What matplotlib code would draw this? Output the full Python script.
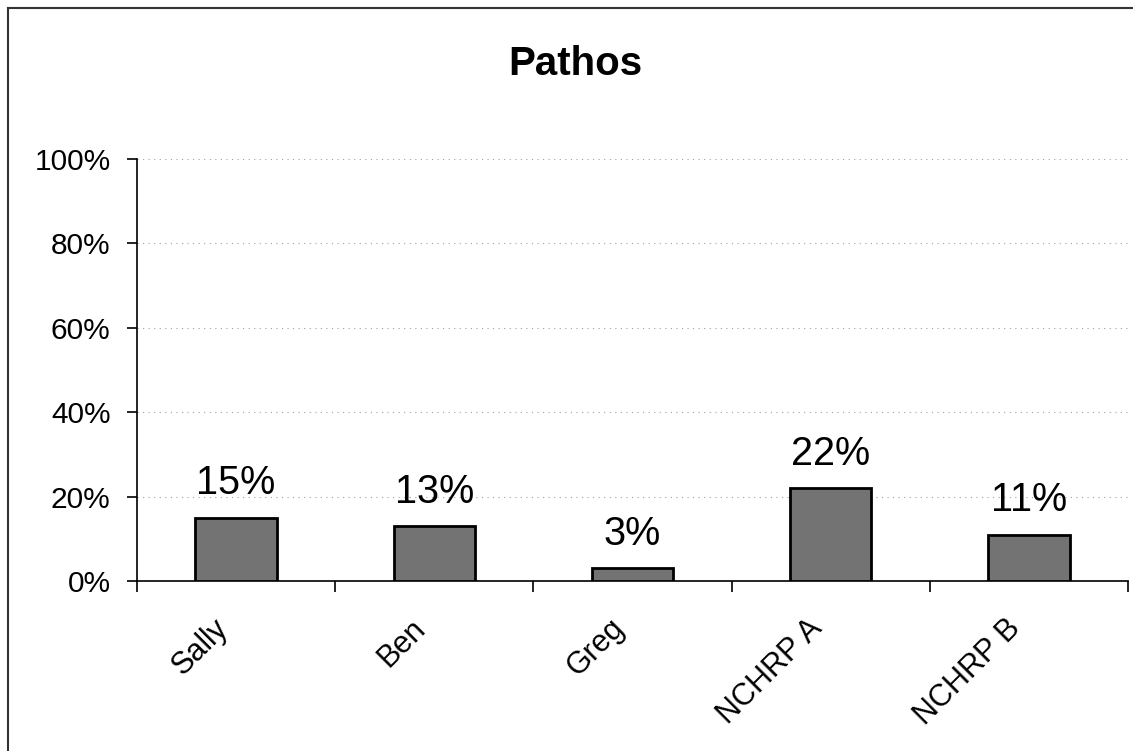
import numpy as np
import matplotlib.pyplot as plt
import matplotlib.transforms as mtransforms
from matplotlib.lines import Line2D
from matplotlib.ticker import FuncFormatter, FixedLocator

plt.rcParams['font.family'] = ['Liberation Sans', 'DejaVu Sans']

# data
names = ['Sally', 'Ben', 'Greg', 'NCHRP A', 'NCHRP B']
values = [15, 13, 3, 22, 11]
labels = ['15%', '13%', '3%', '22%', '11%']
yticks = [0, 20, 40, 60, 80, 100]

fig = plt.figure(figsize=(11.33, 7.51), dpi=100)
ax = fig.add_axes([137 / 1133, 1 - 581 / 751, (1128 - 137) / 1133, (581 - 159) / 751])

x = np.arange(len(names))
ax.bar(x, values, width=0.41, color='#737373', edgecolor='black', linewidth=2, zorder=3)

for xi, v, lab in zip(x, values, labels):
    ax.annotate(lab, (xi, v), xytext=(0, 17), textcoords='offset points',
                ha='center', va='baseline', fontsize=28.5)

ax.set_xlim(-0.5, len(names) - 0.5)
ax.set_ylim(0, 100)

ax.set_yticks(yticks)
ax.yaxis.set_major_formatter(FuncFormatter(lambda v, p: '%d%%' % v))
ax.tick_params(axis='y', length=7, width=1.2, pad=12, labelsize=21.5)

# category ticks between groups, labels under the bars
ax.set_xticks(x)
ax.set_xticklabels(names, rotation=45, ha='right', va='center',
                   rotation_mode='anchor', fontsize=22)
ax.tick_params(axis='x', which='major', length=0, pad=31)
shift = mtransforms.ScaledTranslation(-13 / 100, 0, fig.dpi_scale_trans)
for t in ax.get_xticklabels():
    t.set_transform(t.get_transform() + shift)
ax.xaxis.set_minor_locator(FixedLocator(np.arange(-0.5, len(names), 1.0)))
ax.tick_params(axis='x', which='minor', length=8, width=1.2)

for s in ['top', 'right']:
    ax.spines[s].set_visible(False)
ax.spines['left'].set_linewidth(1.2)
ax.spines['bottom'].set_linewidth(1.2)

ax.grid(axis='y', color='#a0a0a0', linestyle=(0, (1, 4)), linewidth=0.8, zorder=0)
ax.set_axisbelow(True)

fig.text(575 / 1133, 1 - 75 / 751, 'Pathos', ha='center', va='baseline',
         fontsize=29, fontweight='bold')

# outer frame, only top and left edges are inside the scan
fy = 1 - 8 / 751
fx = 8 / 1133
fig.add_artist(Line2D([fx, 1.0], [fy, fy], transform=fig.transFigure, color='#333333', lw=1.5))
fig.add_artist(Line2D([fx, fx], [0.0, fy], transform=fig.transFigure, color='#333333', lw=1.5))

fig.savefig('out.png', dpi=100)
